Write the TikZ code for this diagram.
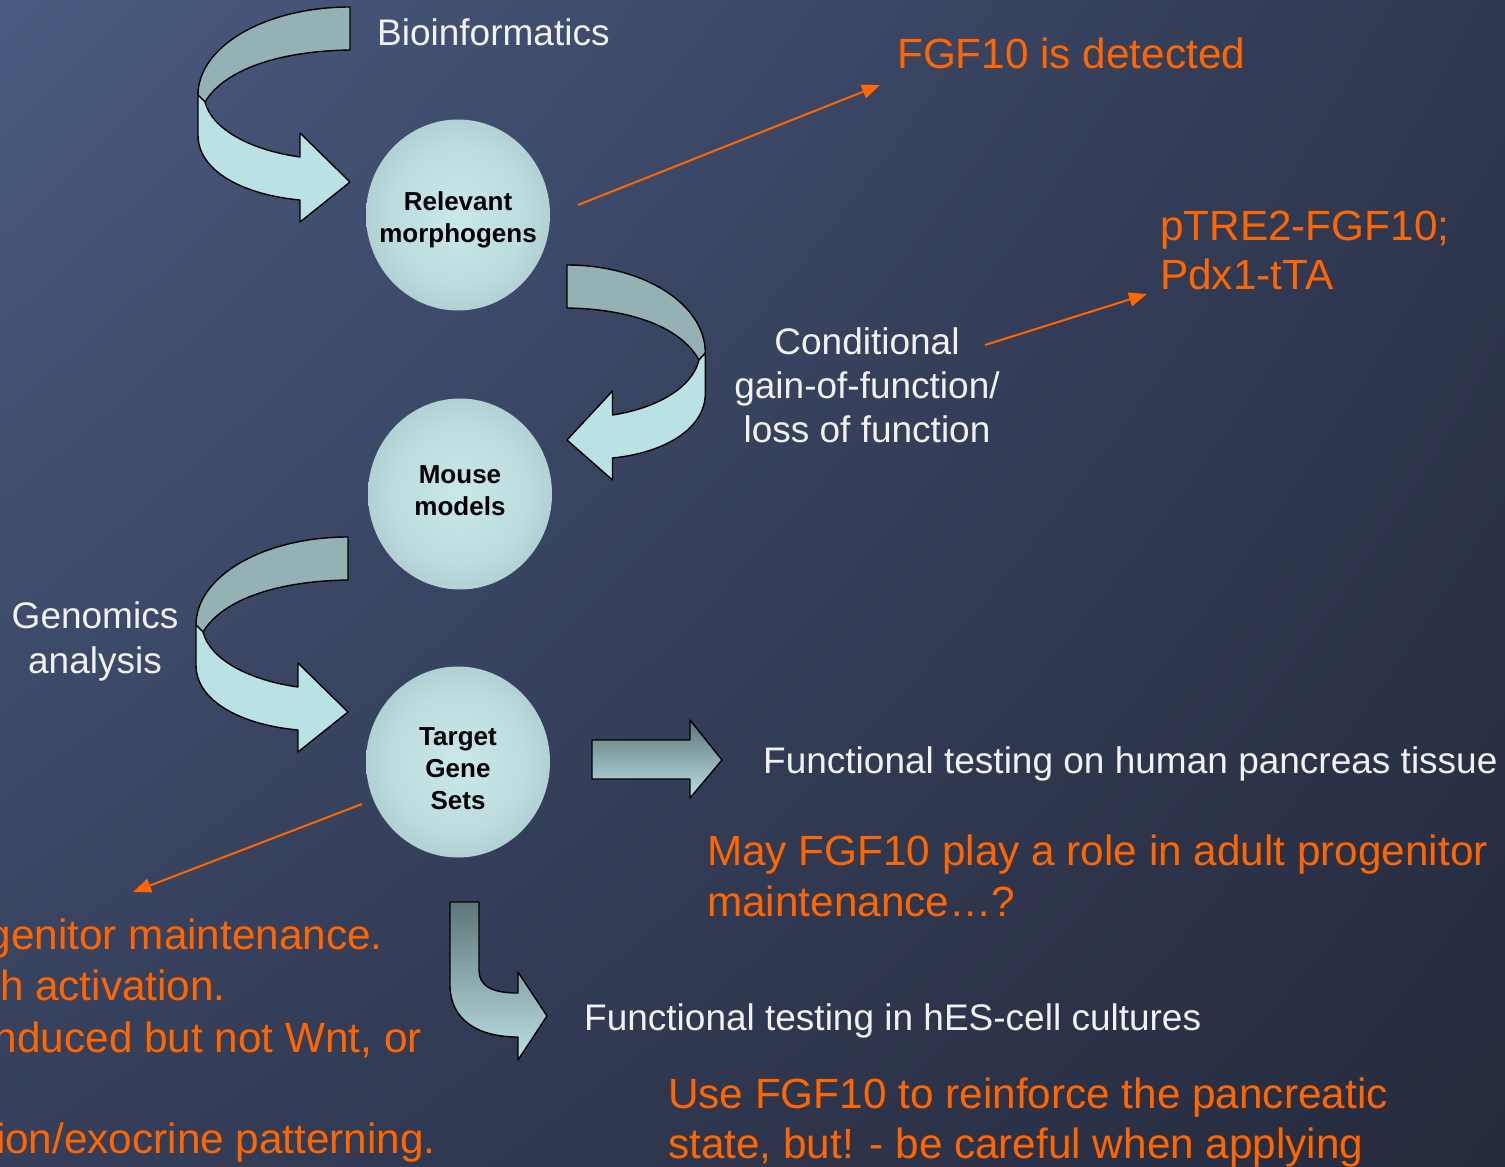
\documentclass[tikz,border=0pt]{standalone}
\usepackage{fontspec}
\setmainfont{Liberation Sans}
\usetikzlibrary{shapes.geometric,arrows.meta,shadings}
\definecolor{bgA}{HTML}{4A5A80}
\definecolor{bgB}{HTML}{2F3850}
\definecolor{bgC}{HTML}{353F5A}
\definecolor{bgD}{HTML}{262B3D}
\definecolor{sphin}{HTML}{C8E8EA}
\definecolor{sphout}{HTML}{8AAAAD}
\definecolor{ribA}{HTML}{94B2B4}
\definecolor{ribB}{HTML}{BAE1E4}
\definecolor{blkdark}{HTML}{5E7678}
\definecolor{blklight}{HTML}{BCE0E3}
\definecolor{orng}{RGB}{255,102,0}
\definecolor{wtxt}{HTML}{F2F2F2}
\pgfdeclareradialshading{sphere}{\pgfpoint{0bp}{0bp}}{color(0bp)=(sphin); color(18bp)=(sphin!80!sphout); color(50bp)=(sphout); color(100bp)=(sphout)}
\newcommand\ribbonarrow{%
  \filldraw[ribtop] (0,0) .. controls (-84,0) and (-152,39) .. (-152,88) -- (-145,95) .. controls (-125,62) and (-70,44) .. (0,43) -- cycle;
  \filldraw[ribbot] (-152,88) -- (-152,128) .. controls (-152,165) and (-105,188) .. (-50,193) -- (-50,215) -- (0,175) -- (-50,126) -- (-50,150) .. controls (-100,143) and (-138,122) .. (-145,95) -- cycle;}
\tikzset{
  ribtop/.style={fill=ribA, draw=black, line width=1.4pt, line join=round},
  ribbot/.style={fill=ribB, draw=black, line width=1.4pt, line join=round},
  blockarrow/.style={top color=blkdark, bottom color=blklight, draw=black, line width=1.4pt, line join=round},
  ball/.style={ellipse, shading=sphere, minimum width=184pt, minimum height=191pt, inner sep=0pt},
  balltext/.style={align=center, font=\bfseries\fontsize{26}{32}\selectfont, text=black, inner sep=0pt},
  wlabel/.style={text=wtxt, font=\fontsize{37}{44}\selectfont, inner sep=0pt},
  olabel/.style={text=orng, font=\fontsize{42.3}{50}\selectfont, inner sep=0pt},
  oarrow/.style={draw=orng, line width=2pt, -{Triangle[length=18pt,width=14pt]}}
}
\begin{document}
\begin{tikzpicture}[x=1pt,y=-1pt]
\useasboundingbox (0,0) rectangle (1505,1167);
\clip (0,0) rectangle (1505,1167);
\shade[upper left=bgA, upper right=bgB, lower left=bgC, lower right=bgD] (0,0) rectangle (1505,1167);

% curved ribbon arrows
\begin{scope}[shift={(350,7)}]\ribbonarrow\end{scope}
\begin{scope}[shift={(567,265)}, xscale=-0.91]\ribbonarrow\end{scope}
\begin{scope}[shift={(348,537)}]\ribbonarrow\end{scope}

% spheres
\node[ball] (rel) at (458,215) {};
\node[ball] (mouse) at (460,494) {};
\node[ball] (target) at (458,762) {};
\node[balltext] (reltext) at (458,220) {Relevant\\morphogens};
\node[balltext] (mousetext) at (460,491) {Mouse\\models};
\node[balltext] (targettext) at (458,769) {Target\\Gene\\Sets};

% block arrows
\draw[blockarrow] (592,740) -- (690,740) -- (690,720) -- (722,760) -- (690,798) -- (690,779) -- (592,779) -- cycle;
\draw[blockarrow] (450,902) -- (479,902) -- (479,970) .. controls (479,985) and (490,993) .. (518,993) -- (518,972) -- (547,1016) -- (518,1060) -- (518,1037) .. controls (478,1037) and (450,1020) .. (450,985) -- cycle;

% white labels
\node[wlabel, anchor=base west] (bioinf) at (377,45) {Bioinformatics};
\node[wlabel, anchor=base] (cond1) at (867,354) {Conditional};
\node[wlabel, anchor=base] (cond2) at (867,398) {gain-of-function/};
\node[wlabel, anchor=base] (cond3) at (867,442) {loss of function};
\node[wlabel, anchor=base] (gen1) at (95,628) {Genomics};
\node[wlabel, anchor=base] (gen2) at (95,673) {analysis};
\node[wlabel, anchor=base west] (ft1) at (763,773) {Functional testing on human pancreas tissue};
\node[wlabel, anchor=base west] (ft2) at (584,1030) {Functional testing in hES-cell cultures};

% orange labels
\node[olabel, anchor=base west] (fgf) at (897,68) {FGF10 is detected};
\node[olabel, anchor=base west] (ptre1) at (1160,240) {pTRE2-FGF10;};
\node[olabel, anchor=base west] (ptre2) at (1160,289) {Pdx1-tTA};
\node[olabel, anchor=base west] (may1) at (707,865) {May FGF10 play a role in adult progenitor};
\node[olabel, anchor=base west] (may2) at (707,916) {maintenance…?};
\node[olabel, anchor=base west] (use1) at (668,1108) {Use FGF10 to reinforce the pancreatic};
\node[olabel, anchor=base west] (use2) at (668,1158) {state, but! - be careful when applying};
\node[olabel, anchor=base east] (left1) at (383,949) {genitor maintenance.};
\node[olabel, anchor=base east] (left2) at (226,1000) {h activation.};
\node[olabel, anchor=base east] (left3) at (422,1052) {nduced but not Wnt, or};
\node[olabel, anchor=base east] (left4) at (436,1153) {ion/exocrine patterning.};

% orange connectors
\coordinate (a1s) at (578,205);
\coordinate (a1e) at (880,85);
\coordinate (a2s) at (985,345);
\coordinate (a2e) at (1147,294);
\coordinate (a3s) at (362,804);
\coordinate (a3e) at (133,892);
\draw[oarrow] (a1s) -- (a1e);
\draw[oarrow] (a2s) -- (a2e);
\draw[oarrow] (a3s) -- (a3e);
\end{tikzpicture}
\end{document}
